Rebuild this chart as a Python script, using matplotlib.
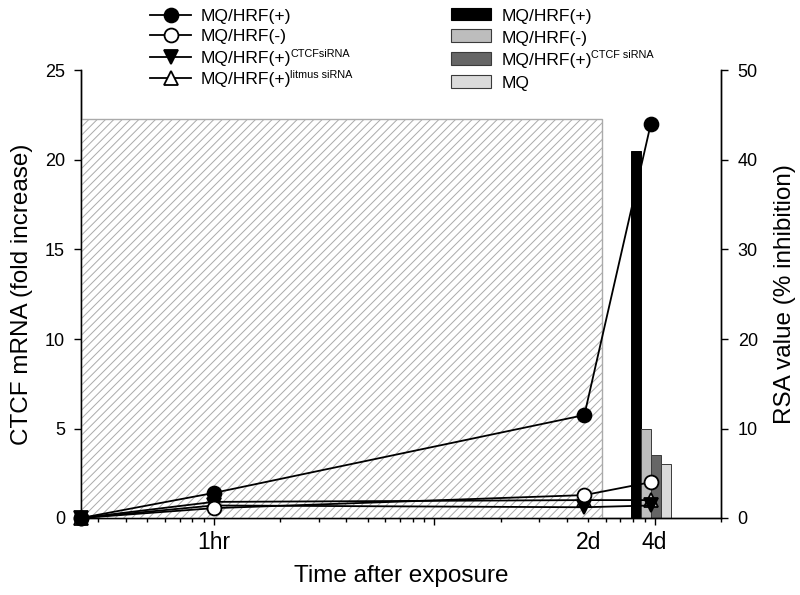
import numpy as np
import matplotlib
matplotlib.use("Agg")
import matplotlib.pyplot as plt
from matplotlib.lines import Line2D
from matplotlib.patches import Rectangle
from matplotlib.ticker import LogLocator, FuncFormatter, FixedLocator

plt.rcParams["font.family"] = ["Liberation Sans", "DejaVu Sans"]
plt.rcParams["hatch.linewidth"] = 0.7

# time points in hours (first point = time 0, drawn at the left edge)
TIME_HR = [0.25, 1, 48, 96]
LINE_LABELS = ["MQ/HRF(+)", "MQ/HRF(-)", "MQ/HRF(+)", "MQ/HRF(+)"]
LINE_SUPS = ["", "", "CTCFsiRNA", "litmus siRNA"]
FOLD_HRF_POS = [0, 1.4, 5.75, 22.0]
FOLD_HRF_NEG = [0, 0.55, 1.28, 2.0]
FOLD_CTCF_SI = [0, 0.7, 0.6, 0.7]
FOLD_LITMUS_SI = [0, 0.9, 1.0, 1.0]

# RSA values measured at 4 days
RSA_TIME = 96
RSA_LABELS = ["MQ/HRF(+)", "MQ/HRF(-)", "MQ/HRF(+)", "MQ"]
RSA_SUPS = ["", "", "CTCF siRNA", ""]
RSA_VALUES = [41, 10, 7, 6]
RSA_COLORS = ["#000000", "#bdbdbd", "#666666", "#dadada"]

# shaded exposure window (fold-increase axis units)
SHADE_X = [0.25, 58]
SHADE_TOP = 22.3

W_PX, H_PX = 800, 595
fig = plt.figure(figsize=(8, 5.95), dpi=100)
ax = fig.add_axes([81 / W_PX, 1 - 518 / H_PX, 640 / W_PX, 447.5 / H_PX])
ax2 = ax.twinx()
ax.set_zorder(ax2.get_zorder() + 1)
ax.patch.set_visible(False)

ax.set_xscale("log")
ax.set_xlim(0.25, 200)
ax.set_ylim(0, 25)
ax2.set_ylim(0, 50)

# hatched window
ax.add_patch(Rectangle((SHADE_X[0], 0), SHADE_X[1] - SHADE_X[0], SHADE_TOP,
                       facecolor="white", edgecolor="#aaaaaa", hatch="////",
                       linewidth=1.0, zorder=0))

# bars: four adjacent bars centred on 4d, each ~10 px wide on the log axis
bw = 0.0452
for i, (val, col) in enumerate(zip(RSA_VALUES, RSA_COLORS)):
    left = np.log10(RSA_TIME) + (i - 2) * bw
    x0, x1 = 10 ** left, 10 ** (left + bw)
    ax2.bar(x0, val, width=x1 - x0, align="edge", color=col,
            edgecolor="#000000" if i == 0 else "#3a3a3a", linewidth=0.7)

MARKERS = [("o", "black"), ("o", "white"), ("v", "black"), ("^", "white")]
SERIES = [FOLD_HRF_POS, FOLD_HRF_NEG, FOLD_CTCF_SI, FOLD_LITMUS_SI]
for (m, fc), ys, z in zip(MARKERS, SERIES, [8, 7, 6, 5]):
    ax.plot(TIME_HR, ys, color="black", linewidth=1.3, marker=m,
            markersize=10, markerfacecolor=fc, markeredgecolor="black",
            markeredgewidth=1.3, clip_on=False, zorder=z)

# spines
for a in (ax, ax2):
    a.spines["top"].set_visible(False)
    for s in ("left", "right", "bottom"):
        a.spines[s].set_linewidth(1.0)

# x ticks
ax.xaxis.set_major_locator(FixedLocator([1, 10, 100]))
ax.xaxis.set_major_formatter(FuncFormatter(
    lambda v, p: {1: "1hr", 100: "4d"}.get(int(round(v)), "")))
ax.xaxis.set_minor_locator(LogLocator(base=10, subs=np.arange(2, 10), numticks=20))
ax.xaxis.set_minor_formatter(FuncFormatter(
    lambda v, p: "2d" if abs(v - 50) < 1 else ""))
ax.tick_params(axis="x", which="major", length=4.8, width=1.0, labelsize=16.5, pad=4.3)
ax.tick_params(axis="x", which="minor", length=3.1, width=1.0, labelsize=16.5, pad=6)

ax.set_yticks(np.arange(0, 26, 5))
ax.tick_params(axis="y", length=4.8, width=1.0, labelsize=13, pad=6.7)
ax2.set_yticks(np.arange(0, 51, 10))
ax2.tick_params(axis="y", length=4.8, width=1.0, labelsize=13, pad=7.2)

ax.set_xlabel("Time after exposure", fontsize=17.5, va="baseline")
ax.xaxis.set_label_coords(0.5, -64 / 447.5)
ax.set_ylabel("CTCF mRNA (fold increase)", fontsize=17.5, va="center")
ax.yaxis.set_label_coords((22 - 81) / 640, 0.5)
ax2.set_ylabel("RSA value (% inhibition)", fontsize=17.5, va="center")
ax2.yaxis.set_label_coords((785 - 81) / 640, 0.5)


# legends above the plot, laid out row by row in pixel positions
def fx(px):
    return px / W_PX


def fy(py):
    return 1 - py / H_PX


renderer = fig.canvas.get_renderer()


def label_with_sup(x_px, base_px, text, sup):
    t = fig.text(fx(x_px), fy(base_px), text, fontsize=12.6,
                 va="baseline", ha="left")
    if sup:
        right = t.get_window_extent(renderer).x1
        fig.text((right - 1.5) / W_PX, fy(base_px - 6), sup, fontsize=7.8,
                 va="baseline", ha="left")


LINE_ROWS = [15, 35, 57, 77.5]
for (m, fc), lab, sup, yc in zip(MARKERS, LINE_LABELS, LINE_SUPS, LINE_ROWS):
    fig.add_artist(Line2D([fx(150), fx(190.5)], [fy(yc), fy(yc)],
                          transform=fig.transFigure, color="black", lw=1.3))
    fig.add_artist(Line2D([fx(170.5)], [fy(yc)], transform=fig.transFigure,
                          marker=m, markersize=10, markerfacecolor=fc,
                          markeredgecolor="black", markeredgewidth=1.3))
    label_with_sup(201, yc + 6.2, lab, sup)

BAR_ROWS = [13.8, 35.7, 58.6, 81.2]
BAR_TEXT_ROWS = [14.5, 36.5, 58.3, 81.5]
for i, (col, lab, sup, yc, yt) in enumerate(zip(RSA_COLORS, RSA_LABELS, RSA_SUPS,
                                                BAR_ROWS, BAR_TEXT_ROWS)):
    fig.add_artist(Rectangle((fx(450.7), fy(yc + 6.3)), fx(40.3), 12.6 / H_PX,
                             transform=fig.transFigure, facecolor=col,
                             edgecolor="#000000" if i == 0 else "#3a3a3a",
                             linewidth=0.8))
    label_with_sup(501.5, yt + 6.2, lab, sup)

fig.savefig("out.png", dpi=100, facecolor="white")
